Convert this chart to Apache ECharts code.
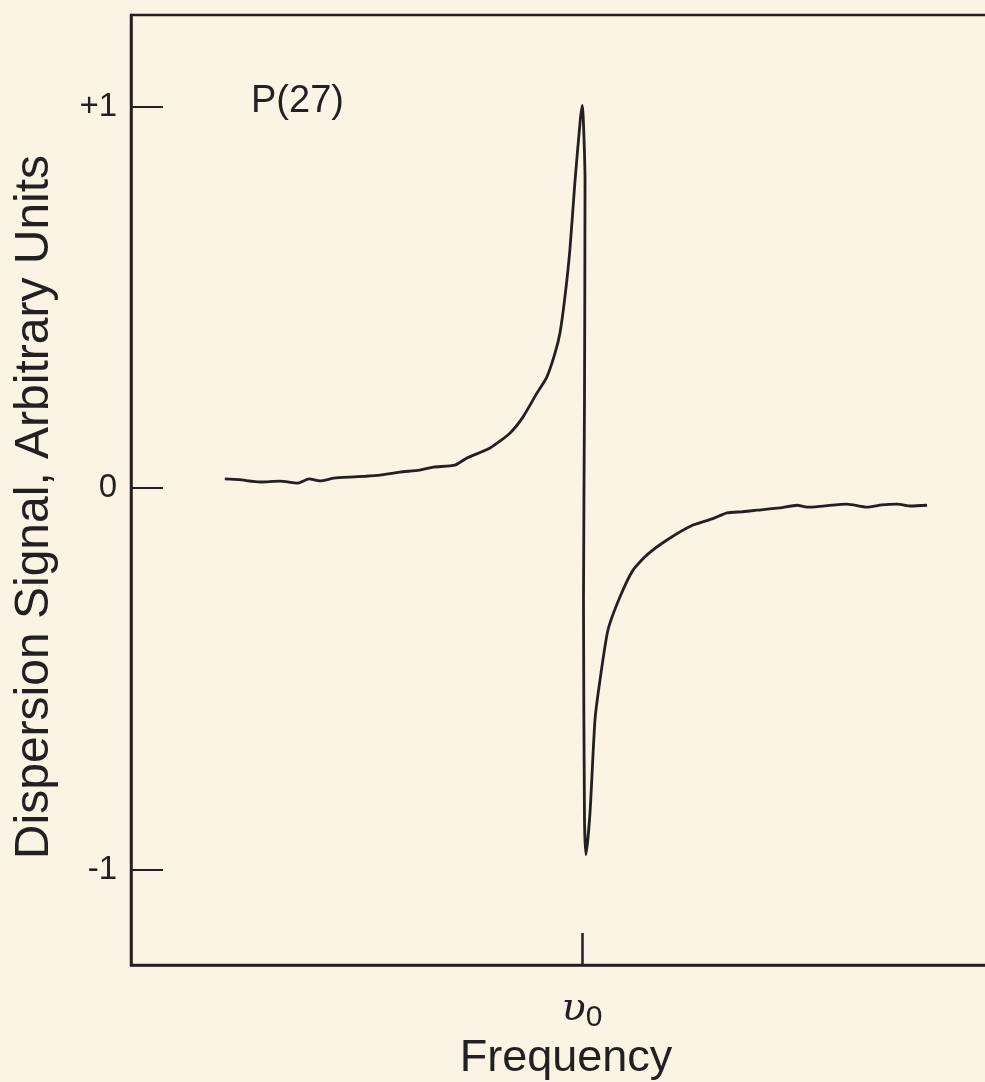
<!DOCTYPE html>
<html>
<head>
<meta charset="utf-8">
<script src="https://cdn.jsdelivr.net/npm/echarts@6/dist/echarts.min.js"></script>
<style>
  html, body { margin: 0; padding: 0; background: #fbf4e4; }
  #chart { width: 985px; height: 1082px; }
</style>
</head>
<body>
<div id="chart"></div>
<script>
// frequency offset from line centre (arbitrary units)
var freq = [
  -7.92, -7.60, -7.14, -6.70, -6.30, -6.05, -5.81, -5.50, -5.14, -4.80, -4.48, -4.04,
  -3.60, -3.30, -2.82, -2.55, -2.04, -1.60, -1.31, -1.00, -0.78, -0.60, -0.49, -0.38,
  -0.27, -0.16, -0.04, 0.007,
  0.067, 0.055, 0.033, 0.055, 0.089,
  0.177, 0.288, 0.399, 0.576, 0.843, 1.131, 1.441, 1.885, 2.461, 2.90, 3.215, 3.55,
  3.880, 4.390, 4.767, 4.989, 5.344, 5.876, 6.319, 6.65, 6.985, 7.30, 7.650
];
// dispersion signal, normalised to the +1 / -1 extremes
var signal = [
  0.024, 0.022, 0.016, 0.018, 0.013, 0.024, 0.019, 0.026, 0.029, 0.031, 0.034, 0.042,
  0.047, 0.055, 0.060, 0.079, 0.105, 0.144, 0.186, 0.249, 0.291, 0.353, 0.406, 0.500,
  0.623, 0.798, 0.963, 1.003,
  0.806, 0.230, -0.293, -0.869, -0.961,
  -0.851, -0.607, -0.503, -0.372, -0.285, -0.215, -0.175, -0.136, -0.097, -0.080, -0.065, -0.062,
  -0.058, -0.052, -0.045, -0.050, -0.047, -0.042, -0.050, -0.044, -0.042, -0.047, -0.045
];
var yTicks = [-1, 0, 1];
var xTicks = [0];

var points = freq.map(function (f, i) { return [f, signal[i]]; });

var ink = '#241f20';
var chart = echarts.init(document.getElementById('chart'));
chart.setOption({
  backgroundColor: '#fbf4e4',
  animation: false,
  title: {
    text: 'P(27)',
    left: 246,
    top: 78,
    textStyle: { fontFamily: 'Liberation Sans', fontSize: 38, fontWeight: 'normal', color: ink }
  },
  grid: {
    left: 131,
    top: 15,
    width: 870,
    height: 950,
    outerBoundsMode: 'none',
    containLabel: false,
    show: true,
    borderColor: ink,
    borderWidth: 2.5,
    backgroundColor: 'transparent'
  },
  xAxis: {
    type: 'value',
    min: -10,
    max: 9.29,
    name: 'Frequency',
    nameLocation: 'middle',
    nameGap: 71,
    nameMoveOverlap: false,
    nameTextStyle: { fontFamily: 'Liberation Sans', fontSize: 45, color: ink },
    axisLine: { show: true, onZero: false, lineStyle: { color: ink, width: 2.5 } },
    axisTick: { show: true, inside: true, length: 32, customValues: xTicks, lineStyle: { color: ink, width: 2.5 } },
    axisLabel: {
      show: true,
      margin: 22,
      customValues: xTicks,
      formatter: function () { return '{n|υ}{s|0}'; },
      rich: {
        n: { fontFamily: 'DejaVu Serif', fontSize: 40, color: ink, fontStyle: 'italic' },
        s: { fontFamily: 'Liberation Sans', fontSize: 30, color: ink, padding: [16, 0, 0, 0] }
      }
    },
    splitLine: { show: false }
  },
  yAxis: {
    type: 'value',
    min: -1.25,
    max: 1.24,
    name: 'Dispersion Signal, Arbitrary Units',
    nameLocation: 'middle',
    nameGap: 72,
    nameRotate: 90,
    nameTextStyle: { fontFamily: 'Liberation Sans', fontSize: 48, color: ink, padding: [0, 34, 0, 0] },
    axisLine: { show: true, onZero: false, lineStyle: { color: ink, width: 2.5 } },
    axisTick: { show: true, inside: true, length: 32, customValues: yTicks, lineStyle: { color: ink, width: 2 } },
    axisLabel: {
      show: true,
      margin: 14,
      customValues: yTicks,
      fontFamily: 'Liberation Sans',
      fontSize: 33,
      color: ink,
      formatter: function (v) { return v > 0 ? '+' + v : String(v); }
    },
    splitLine: { show: false }
  },
  series: [{
    type: 'line',
    data: points,
    showSymbol: false,
    smooth: 0.2,
    lineStyle: { color: ink, width: 2.8 },
    clip: false
  }]
});
</script>
</body>
</html>
